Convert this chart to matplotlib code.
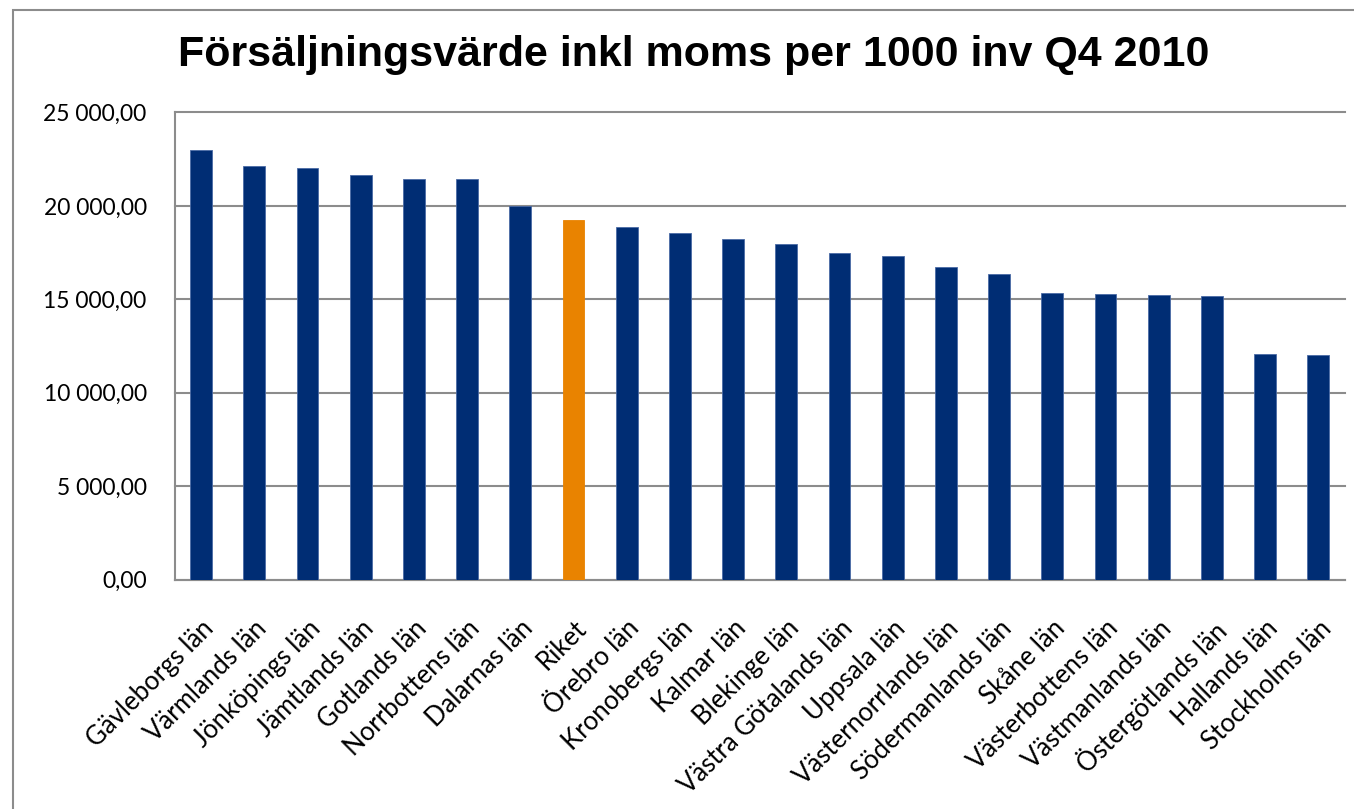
import matplotlib.pyplot as plt
from matplotlib.patches import Rectangle
from matplotlib.ticker import FuncFormatter

lan = ["Gävleborgs län", "Värmlands län", "Jönköpings län", "Jämtlands län",
       "Gotlands län", "Norrbottens län", "Dalarnas län", "Riket", "Örebro län",
       "Kronobergs län", "Kalmar län", "Blekinge län", "Västra Götalands län",
       "Uppsala län", "Västernorrlands län", "Södermanlands län", "Skåne län",
       "Västerbottens län", "Västmanlands län", "Östergötlands län",
       "Hallands län", "Stockholms län"]
varde = [22970, 22150, 22030, 21670, 21440, 21430, 20000, 19260, 18880,
         18560, 18250, 17970, 17470, 17340, 16720, 16340, 15330, 15270,
         15250, 15170, 12070, 12000]

blue = "#002D74"
orange = "#E98300"
colors = [orange if n == "Riket" else blue for n in lan]

fig = plt.figure(figsize=(13.54, 8.09), dpi=100)
# outer chart border
fig.patches.append(Rectangle((13 / 1354, -0.01), 1.0, 1 - 10 / 809 + 0.01,
                             transform=fig.transFigure, fill=False,
                             edgecolor="#8c8c8c", linewidth=1.5))

ax = fig.add_axes([174.5 / 1354, 1 - 579.5 / 809, (1345 - 174.5) / 1354, (579.5 - 112.5) / 809])
x = range(len(lan))
ax.bar(x, varde, width=0.41, color=colors, edgecolor="#4a6aa5", linewidth=0.6, zorder=3)
for b, c in zip(ax.patches, colors):
    if c == orange:
        b.set_edgecolor(orange)

ax.set_xlim(-0.5, len(lan) - 0.5)
ax.set_ylim(0, 25000)
ax.set_yticks(range(0, 25001, 5000))
ax.yaxis.set_major_formatter(FuncFormatter(lambda v, p: f"{v:,.2f}".replace(",", " ").replace(".", ",")))
ax.grid(axis="y", color="#8c8c8c", linewidth=1.5, zorder=0)
ax.set_axisbelow(True)
for gl in ax.get_ygridlines():
    gl.set_clip_on(False)

for s in ["top", "right"]:
    ax.spines[s].set_visible(False)
for s in ["left", "bottom"]:
    ax.spines[s].set_color("#8c8c8c")
    ax.spines[s].set_linewidth(1.5)

ax.set_xticks(list(x))
ax.set_xticklabels(lan, rotation=45, ha="right", rotation_mode="anchor",
                   fontsize=18.5, family="Lato")
ax.tick_params(axis="y", length=0, labelsize=16.5, pad=20)
ax.tick_params(axis="x", length=0, pad=26)
for t in ax.get_yticklabels():
    t.set_family("Lato")

fig.text(694 / 1354, 1 - 55 / 809, "Försäljningsvärde inkl moms per 1000 inv Q4 2010",
         ha="center", va="center", fontsize=31, fontweight="bold",
         family="Liberation Sans")

fig.savefig("out.png", dpi=100)
